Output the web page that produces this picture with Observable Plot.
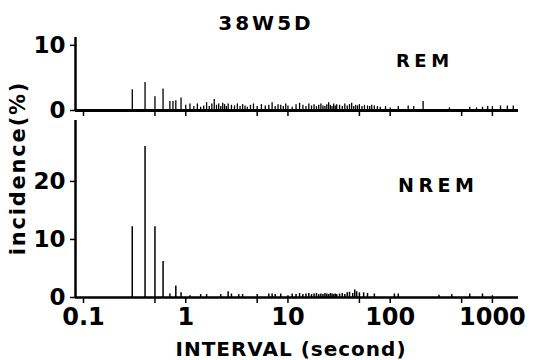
<!DOCTYPE html>
<html>
<head>
<meta charset="utf-8">
<script src="https://cdn.jsdelivr.net/npm/d3@7"></script>
<script src="https://cdn.jsdelivr.net/npm/@observablehq/plot@0.6"></script>
<style>
  html, body { margin: 0; padding: 0; background: #fff; }
  #wrap { position: relative; width: 535px; height: 360px; overflow: hidden; font-family: "DejaVu Sans", sans-serif; font-weight: bold; color: #000; }
  .lbl { position: absolute; white-space: nowrap; line-height: 1; }
  .panel { position: absolute; left: 0; }
</style>
</head>
<body>
<div id="wrap">
  <div class="lbl" id="title" style="left:0;width:532px;text-align:center;top:13px;font-size:20px;letter-spacing:3px;">38W5D</div>
  <div class="lbl" style="left:396px;top:52px;font-size:18px;letter-spacing:4.5px;">REM</div>
  <div class="lbl" style="left:398px;top:176px;font-size:19px;letter-spacing:4.5px;">NREM</div>
  <div class="lbl" style="left:18px;top:168px;font-size:21px;letter-spacing:1.8px;transform:translate(-50%,-50%) rotate(-90deg);">incidence(%)</div>
  <div class="lbl" style="left:0;width:582px;text-align:center;top:339px;font-size:20px;letter-spacing:1px;">INTERVAL (second)</div>
  <div class="panel" id="top" style="top:30px;"></div>
  <div class="panel" id="bottom" style="top:115px;"></div>
</div>
<script>
// ---- data ----
const xTickValues = [0.1, 0.5, 1, 5, 10, 50, 100, 500, 1000];
const xTickLabels = ["0.1", "", "1", "", "10", "", "100", "", "1000"];
const remYTicks = [0, 10];
const nremYTicks = [0, 10, 20];

const remInterval = [0.3,0.4,0.5,0.6,0.7,0.75,0.8,0.9,1,1.1,1.2,1.3,1.4,1.5,1.6,1.7,1.8,1.9,2,2.1,2.2,2.3,2.4,2.5,2.6,2.8,3,3.2,3.4,3.6,3.8,4,4.3,4.6,5,5.5,6,6.5,7,7.5,8,8.5,9,9.5,10,11,12,13,14,15,16,17,18,19,20,21,22,23,24,25,26,27,28,29,30,32,34,36,38,40,42,44,46,48,50,53,56,60,63,66,70,75,80,90,100,120,150,170,210,380,600,700,800,900,1000,1200,1400,1600,1800];
const remIncidence = [3.2,4.3,2.1,3.3,1.4,1.4,1.5,1.9,0.8,1.0,0.6,1.0,0.5,0.7,1.2,0.6,1.0,1.7,0.8,1.0,0.6,1.1,0.9,0.6,1.0,0.8,0.7,1.0,0.6,0.9,0.7,0.5,0.8,1.0,0.6,0.9,0.7,0.8,1.2,0.6,0.9,0.8,0.6,1.0,0.7,0.5,0.9,1.1,0.8,0.6,1.0,0.7,0.9,0.6,0.8,1.0,0.7,0.6,0.9,1.2,0.8,0.6,1.0,0.7,0.9,0.8,0.6,1.0,0.7,0.9,1.1,0.6,0.8,0.7,0.9,0.6,0.8,0.7,0.6,0.8,0.7,0.6,0.5,0.6,0.4,0.6,0.7,0.6,1.4,0.4,0.5,0.4,0.5,0.6,0.6,0.7,0.7,0.7];

const nremInterval = [0.3,0.4,0.5,0.6,0.7,0.8,0.9,1.1,1.4,1.6,2.2,2.6,2.8,3.3,3.6,5,6.5,7,7.5,8.5,10,11,12,13,14,15,16,17,18,19,20,21,22,23,24,25,26,27,28,29,30,32,34,36,38,40,43,45,47,50,55,60,70,110,120,300,400,600,800,1000];
const nremIncidence = [12.2,26,12.2,6.2,0.6,2.0,0.8,0.3,0.5,0.5,0.5,1.0,0.6,0.5,0.5,0.5,0.6,0.6,0.5,0.6,0.3,0.6,0.5,0.7,0.5,0.6,0.7,0.5,0.6,0.7,0.5,0.6,0.5,0.7,0.6,0.5,0.7,0.6,0.5,0.6,0.5,0.6,0.7,0.5,0.8,0.9,0.7,1.3,1.0,0.8,0.8,0.7,0.6,0.6,0.6,0.4,0.5,0.6,0.6,0.3];

// ---- layout ----
const W = 535, ML = 75, MR = 17;
const xDomain = [0.0835, 1800];
const font = {fontFamily: "DejaVu Sans", fontWeight: "bold", fontSize: "21px", background: "transparent", overflow: "visible"};
const fmtX = d => xTickLabels[xTickValues.indexOf(d)] ?? "";

function panel(xs, ys, yMax, yTicks, height, mt, mb, showXLabels, barW, baseW) {
  const data = xs.map((x, i) => ({x, y: ys[i]}));
  return Plot.plot({
    width: W, height, marginLeft: ML, marginRight: MR, marginTop: mt, marginBottom: mb,
    style: font,
    x: {type: "log", domain: xDomain},
    y: {domain: [0, yMax]},
    marks: [
      Plot.ruleX(data, {x: "x", y1: 0, y2: "y", stroke: "#000", strokeWidth: barW}),
      Plot.ruleY([0], {stroke: "#000", strokeWidth: baseW}),
      Plot.ruleX([xDomain[0]], {y1: 0, y2: yMax, stroke: "#000", strokeWidth: 2.5}),
      Plot.axisX({ticks: xTickValues, tickSize: 6, tickPadding: 4, tickFormat: showXLabels ? fmtX : () => "", fontSize: 24, label: null, strokeWidth: 1.5}),
      Plot.axisY({ticks: yTicks, tickSize: 5, tickPadding: 5, tickFormat: d => String(d), fontSize: 23, label: null, strokeWidth: 1.5})
    ]
  });
}

document.getElementById("top").append(panel(remInterval, remIncidence, 11.2, remYTicks, 92, 7, 12, false, 1.3, 3));
document.getElementById("bottom").append(panel(nremInterval, nremIncidence, 30.5, nremYTicks, 210, 5, 28, true, 1.5, 2.5));
</script>
</body>
</html>
